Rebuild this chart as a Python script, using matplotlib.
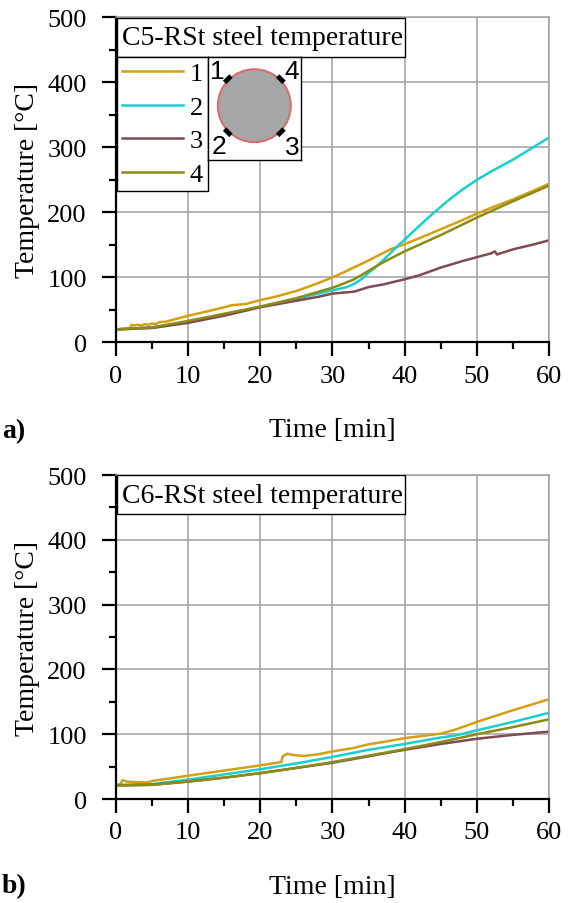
import numpy as np
import matplotlib
matplotlib.use('Agg')
import matplotlib.pyplot as plt
from matplotlib.patches import Rectangle, Circle
from matplotlib.ticker import MultipleLocator

plt.rcParams['font.family'] = ['Liberation Serif', 'DejaVu Serif']

# ---- data ----
labels = ['1', '2', '3', '4']
colors = ['#D4A012', '#1ACFCF', '#7E4B55', '#8C8C14']

# a) C5-RSt
t5_1 = [0, 2, 2.1, 2.5, 3, 3.5, 4, 4.5, 5, 5.5, 6, 7, 8, 10, 12, 15, 16, 18, 20, 22, 25, 28, 30,
        32, 35, 38, 40, 42, 45, 48, 50, 52, 55, 58, 60]
T5_1 = [20, 20.5, 27, 26, 27, 26, 28, 27, 29, 28, 31, 32, 35, 41, 46, 54, 57, 59, 65, 70, 79, 91, 100,
        110, 126, 143, 151, 160, 174, 188, 198, 207, 220, 234, 244]
t5_2 = [0, 5, 10, 15, 20, 25, 30, 32, 33, 34, 35, 36, 37, 38, 39, 40, 42, 44, 46, 48, 50, 52, 55,
        57.5, 60]
T5_2 = [20, 23, 31, 43, 55, 67, 80, 85, 90, 97, 107, 116, 126, 137, 148, 158, 179, 199, 218, 235,
        250, 263, 281, 298, 315]
t5_3 = [0, 5, 10, 15, 20, 25, 28, 30, 32, 33, 35, 37, 40, 42, 45, 48, 50, 52, 52.5, 52.8, 53, 55,
        58, 60]
T5_3 = [20, 22, 30, 41, 54, 64, 70, 75, 77, 78, 85, 89, 97, 103, 115, 125, 131, 137, 140, 135, 136,
        143, 151, 157]
t5_4 = [0, 5, 10, 15, 20, 25, 30, 31, 33, 35, 37, 40, 45, 50, 55, 60]
T5_4 = [20, 23, 33, 44, 55, 68, 84, 88, 97, 110, 123, 140, 165, 192, 217, 241]

# b) C6-RSt
t6_1 = [0, 0.6, 0.9, 1.5, 3, 4.5, 5, 7, 10, 15, 20, 22.9, 23.1, 23.7, 24.5, 26, 28, 30, 33, 35, 37,
        40, 43, 45, 46, 47, 50, 55, 60]
T6_1 = [22, 23, 29, 27, 26, 26, 28, 31, 36, 44, 52, 57, 66, 70, 68, 66.5, 69, 73.5, 79, 84.5, 88,
        94, 98, 101, 104, 107, 119, 137, 154]
t6_2 = [0, 5, 10, 15, 20, 25, 30, 35, 40, 45, 47, 50, 55, 60]
T6_2 = [22, 23, 30, 38, 46, 55, 65, 76, 85, 95, 98, 106, 119, 133]
t6_3 = [0, 5, 10, 15, 20, 25, 30, 35, 40, 45, 50, 55, 60]
T6_3 = [21, 22, 27, 33, 40, 48, 56, 66, 76, 85, 93, 99, 104]
t6_4 = [0, 5, 10, 15, 20, 25, 30, 35, 40, 45, 50, 55, 60]
T6_4 = [21, 22, 27, 33, 40, 48, 57, 67, 77, 88, 100, 111, 123]

fig = plt.figure(figsize=(5.73, 9.04), dpi=100)
ax1 = fig.add_axes([0.2024, 0.6202, 0.7557, 0.3595])
ax2 = fig.add_axes([0.2024, 0.1150, 0.7557, 0.3584])

panels = [
    (ax1, [(t5_1, T5_1), (t5_2, T5_2), (t5_3, T5_3), (t5_4, T5_4)], 'C5-RSt steel temperature'),
    (ax2, [(t6_1, T6_1), (t6_2, T6_2), (t6_3, T6_3), (t6_4, T6_4)], 'C6-RSt steel temperature'),
]

for ax, series, title in panels:
    for (t, T), c, lab in zip(series, colors, labels):
        ax.plot(t, T, color=c, lw=1.8, label=lab)
    ax.set_xlim(0, 60)
    ax.set_ylim(0, 500)
    ax.xaxis.set_major_locator(MultipleLocator(10))
    ax.xaxis.set_minor_locator(MultipleLocator(5))
    ax.yaxis.set_major_locator(MultipleLocator(100))
    ax.yaxis.set_minor_locator(MultipleLocator(50))
    ax.grid(True, which='major', color='#A0A0A0', lw=1.1)
    ax.set_axisbelow(True)
    for s in ['top', 'right']:
        ax.spines[s].set_color('#A0A0A0')
        ax.spines[s].set_linewidth(1.1)
    for s in ['left', 'bottom']:
        ax.spines[s].set_linewidth(1.6)
    ax.tick_params(which='major', direction='out', length=10, width=1.6, labelsize=19)
    ax.tick_params(which='minor', direction='out', length=5, width=1.6)
    ax.tick_params(axis='x', which='major', pad=6)
    ax.tick_params(axis='y', which='major', pad=11)
    ax.set_xlabel('Time [min]', fontsize=20, labelpad=22)
    ax.set_ylabel('Temperature [°C]', fontsize=20, labelpad=5)

    # title box
    ax.add_patch(Rectangle((0.002, 0.879), 0.666, 0.12, transform=ax.transAxes,
                           facecolor='white', edgecolor='black', lw=1, zorder=6))
    ax.text(0.013, 0.937, title, transform=ax.transAxes, fontsize=20,
            va='center', ha='left', zorder=7)

# panel tags
fig.text(0.003, 1 - 432 / 904, 'a)', fontsize=20, fontweight='bold', va='center')
fig.text(0.003, 1 - 887 / 904, 'b)', fontsize=20, fontweight='bold', va='center')

# legend only in the top panel
leg = ax1.legend(loc='upper left', bbox_to_anchor=(0.002, 0.879), borderaxespad=0,
                 fancybox=False, edgecolor='black', framealpha=1, fontsize=19,
                 handlelength=2.3, handletextpad=0.25, borderpad=0.2, labelspacing=0.38)
leg.get_frame().set_linewidth(1)
leg.set_zorder(6)

# cross-section sketch
axi = fig.add_axes([208 / 573, 1 - 161 / 904, 93 / 573, 103 / 904])
axi.set_xlim(0, 93)
axi.set_ylim(103, 0)
axi.set_xticks([])
axi.set_yticks([])
axi.set_zorder(7)
for s in axi.spines.values():
    s.set_linewidth(1)
axi.add_patch(Circle((46.3, 48.7), 36.5, facecolor='#A6A6A6', edgecolor='#D9696B', lw=1.4))
for ang in [45, 135, 225, 315]:
    a = np.deg2rad(ang)
    cx, cy = 46.3 + 37.5 * np.cos(a), 48.7 + 37.5 * np.sin(a)
    tx, ty = -np.sin(a) * 4.5, np.cos(a) * 4.5
    axi.plot([cx - tx, cx + tx], [cy - ty, cy + ty], color='black', lw=3.5, solid_capstyle='butt')
sk_font = dict(fontsize=19, family=['Liberation Sans', 'DejaVu Sans'], ha='center', va='center')
axi.text(9, 14, '1', **sk_font)
axi.text(84, 14, '4', **sk_font)
axi.text(11, 89, '2', **sk_font)
axi.text(84, 90, '3', **sk_font)

fig.savefig('out.png', dpi=100)
